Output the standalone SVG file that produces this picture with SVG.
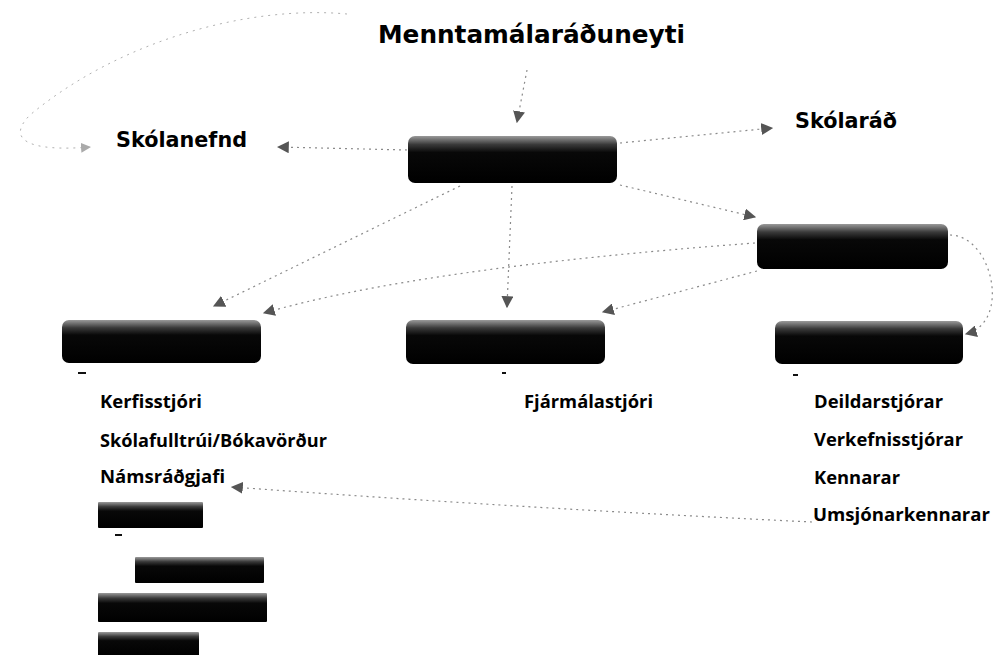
<svg xmlns="http://www.w3.org/2000/svg" width="996" height="655" viewBox="0 0 996 655">
<defs>
<linearGradient id="gBox" x1="0" y1="0" x2="0" y2="1">
<stop offset="0" stop-color="#9a9a9a"/>
<stop offset="0.18" stop-color="#3a3a3a"/>
<stop offset="0.35" stop-color="#080808"/>
<stop offset="1" stop-color="#000"/>
</linearGradient>
<marker id="arr" viewBox="0 0 10 10" refX="9" refY="5" markerWidth="12" markerHeight="12" markerUnits="userSpaceOnUse" orient="auto">
<path d="M0,0 L10,5 L0,10 Z" fill="#555"/>
</marker>
<marker id="arrL" viewBox="0 0 10 10" refX="9" refY="5" markerWidth="10" markerHeight="10" markerUnits="userSpaceOnUse" orient="auto">
<path d="M0,0 L10,5 L0,10 Z" fill="#aaa"/>
</marker>
</defs>
<style>
.box{fill:url(#gBox);}
.sq{fill:url(#gBox);}
.dash{fill:#111;}
.ttl{font-family:"DejaVu Sans",Verdana,sans-serif;font-weight:bold;fill:#000;}
.lbl{font-family:"Open Sans","DejaVu Sans",sans-serif;font-weight:700;font-size:18px;fill:#000;}
.con{fill:none;stroke:#8a8a8a;stroke-width:1.2;stroke-dasharray:2 4;}
.conL{fill:none;stroke:#b0b0b0;stroke-width:1;stroke-dasharray:2 5;}
</style>
<rect width="996" height="655" fill="#fff"/>

<g id="connectors">
<path class="con" d="M527 70 L517 122" marker-end="url(#arr)"/>
<path class="con" d="M407 150 L278 147" marker-end="url(#arr)"/>
<path class="con" d="M620 143 L772 128" marker-end="url(#arr)"/>
<path class="conL" d="M347 14 C250 5 120 40 30 115 C5 140 30 152 90 147" marker-end="url(#arrL)"/>
<path class="con" d="M620 185 L755 217" marker-end="url(#arr)"/>
<path class="con" d="M460 186 L214 306" marker-end="url(#arr)"/>
<path class="con" d="M512 186 L507 307" marker-end="url(#arr)"/>
<path class="con" d="M755 243 Q420 268 264 313" marker-end="url(#arr)"/>
<path class="con" d="M757 271 L603 312" marker-end="url(#arr)"/>
<path class="con" d="M950 235 C992 235 1012 322 966 334" marker-end="url(#arr)"/>
<path class="con" d="M812 522 Q520 508 232 487" marker-end="url(#arr)"/>
</g>

<g id="n-ministry"><text class="ttl" x="378" y="43" font-size="25" textLength="307" lengthAdjust="spacingAndGlyphs">Menntamálaráðuneyti</text></g>
<g id="n-skolanefnd"><text class="ttl" x="116" y="147" font-size="22" textLength="131" lengthAdjust="spacingAndGlyphs">Skólanefnd</text></g>
<g id="n-skolarad"><text class="ttl" x="795" y="128" font-size="22" textLength="102" lengthAdjust="spacingAndGlyphs">Skólaráð</text></g>

<g id="n-top"><rect class="box" x="408" y="136" width="209" height="47" rx="7"/></g>
<g id="n-right"><rect class="box" x="757" y="224" width="191" height="45" rx="7"/></g>

<g id="n-left">
<rect class="box" x="62" y="320" width="199" height="43" rx="7"/>
<rect class="dash" x="78" y="372" width="8" height="2"/>
<text class="lbl" x="100" y="408" textLength="102" lengthAdjust="spacingAndGlyphs">Kerfisstjóri</text>
<text class="lbl" x="100" y="447" textLength="227" lengthAdjust="spacingAndGlyphs">Skólafulltrúi/Bókavörður</text>
<text class="lbl" x="100" y="483" textLength="125" lengthAdjust="spacingAndGlyphs">Námsráðgjafi</text>
<rect class="sq" x="98" y="502" width="105" height="26" rx="1"/>
<rect class="dash" x="115" y="534" width="7" height="2"/>
<rect class="sq" x="135" y="557" width="129" height="26" rx="1"/>
<rect class="sq" x="98" y="593" width="169" height="29" rx="1"/>
<rect class="sq" x="98" y="632" width="101" height="25" rx="1"/>
</g>

<g id="n-middle">
<rect class="box" x="406" y="320" width="199" height="44" rx="7"/>
<rect class="dash" x="502" y="372" width="4" height="2"/>
<text class="lbl" x="524" y="408" textLength="129" lengthAdjust="spacingAndGlyphs">Fjármálastjóri</text>
</g>

<g id="n-rightbottom">
<rect class="box" x="775" y="321" width="188" height="43" rx="7"/>
<rect class="dash" x="793" y="374" width="5" height="2"/>
<text class="lbl" x="814" y="408" textLength="129" lengthAdjust="spacingAndGlyphs">Deildarstjórar</text>
<text class="lbl" x="814" y="446" textLength="149" lengthAdjust="spacingAndGlyphs">Verkefnisstjórar</text>
<text class="lbl" x="814" y="484" textLength="86" lengthAdjust="spacingAndGlyphs">Kennarar</text>
<text class="lbl" x="813" y="521" textLength="177" lengthAdjust="spacingAndGlyphs">Umsjónarkennarar</text>
</g>
</svg>
